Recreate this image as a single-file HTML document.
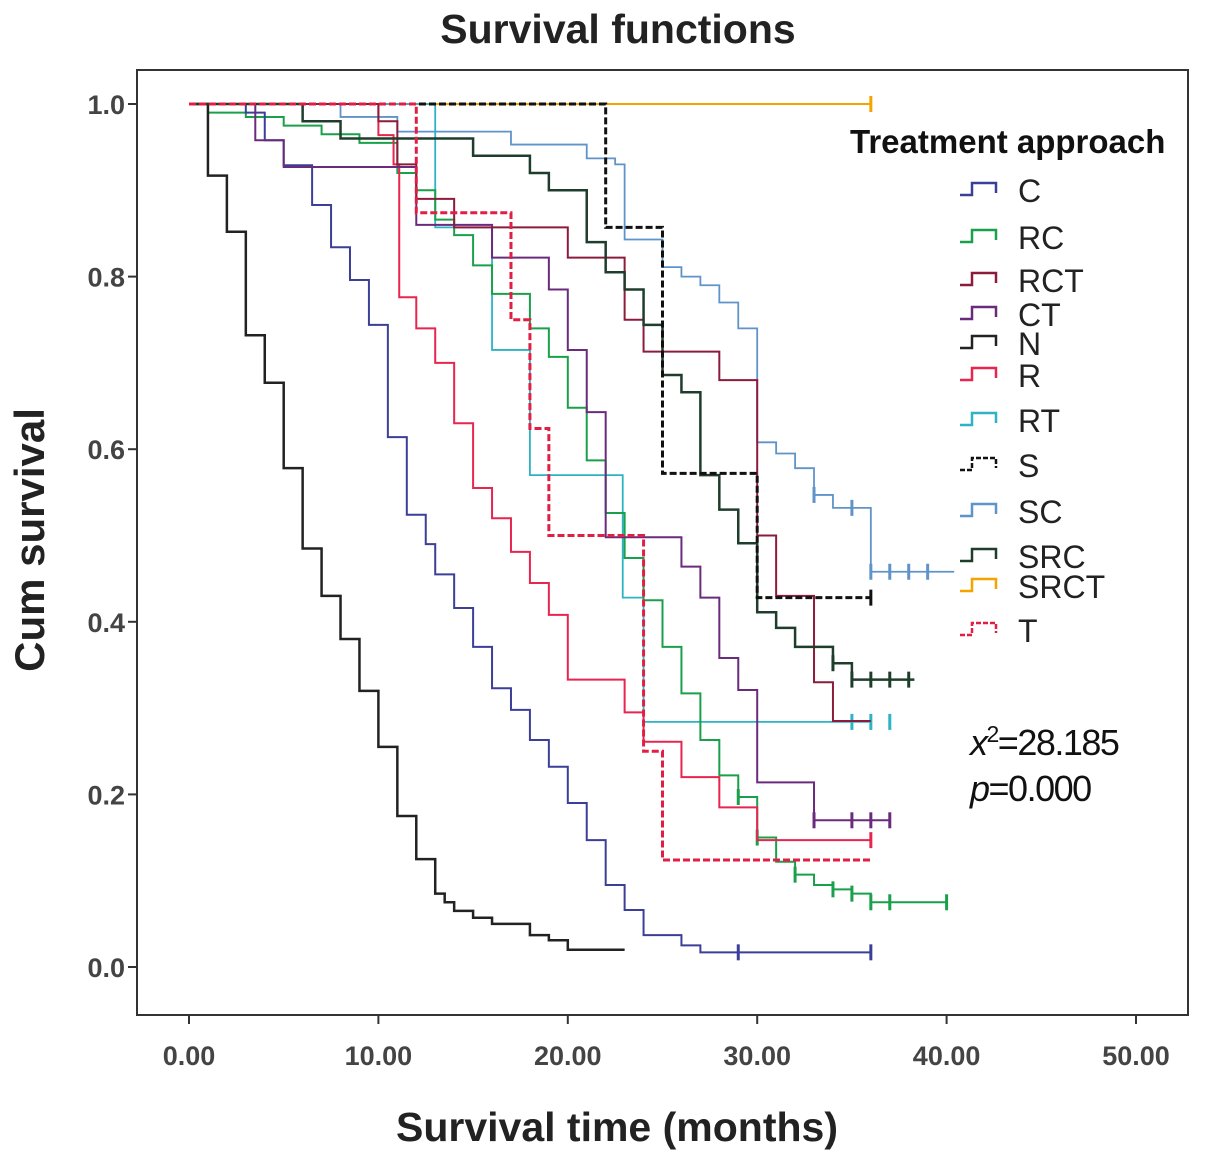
<!DOCTYPE html>
<html><head><meta charset="utf-8"><style>
html,body{margin:0;padding:0;background:#fff;}
svg{display:block;font-family:"Liberation Sans",sans-serif;}
</style></head><body>
<svg id="chart" width="1205" height="1162" viewBox="0 0 1205 1162" xmlns="http://www.w3.org/2000/svg">
<rect x="0" y="0" width="1205" height="1162" fill="#fff"/>
<text x="618" y="43" text-anchor="middle" font-size="41" font-weight="bold" fill="#222">Survival functions</text>
<rect x="137" y="70" width="1051" height="945" fill="none" stroke="#333" stroke-width="2"/>
<text transform="translate(44,540) rotate(-90)" text-anchor="middle" font-size="42" font-weight="bold" fill="#222">Cum survival</text>
<text x="617" y="1141" text-anchor="middle" font-size="41" font-weight="bold" fill="#222">Survival time (months)</text>
<g id="axes"></g>
<g id="series"></g>
<g id="legend">
<text x="850" y="153" font-size="33" font-weight="bold" fill="#111">Treatment approach</text>
</g>
<text x="970" y="755" font-size="36" fill="#111" letter-spacing="-1.5"><tspan font-style="italic">x</tspan><tspan font-size="23" dy="-13">2</tspan><tspan dy="13">=28.185</tspan></text>
<text x="970" y="801" font-size="36" fill="#111" letter-spacing="-1.5"><tspan font-style="italic">p</tspan>=0.000</text>
</svg>
<script>
const xTicks = [0, 10, 20, 30, 40, 50];
const xTickLabels = ["0.00", "10.00", "20.00", "30.00", "40.00", "50.00"];
const yTicks = [0, 0.2, 0.4, 0.6, 0.8, 1.0];
const yTickLabels = ["0.0", "0.2", "0.4", "0.6", "0.8", "1.0"];
const groups = ["C","RC","RCT","CT","N","R","RT","S","SC","SRC","SRCT","T"];
const tC = [3,4,5,6.5,7.5,8.5,9.5,10.5,11.5,12.5,13,14,15,16,17,18,19,20,21,22,23,24,26,27];
const sC = [0.99,0.958,0.929,0.883,0.834,0.796,0.744,0.614,0.524,0.49,0.455,0.416,0.371,0.323,0.298,0.263,0.232,0.19,0.147,0.095,0.066,0.037,0.025,0.017];
const tRC = [1,3,5,7,9,11,12,13,14,15,16,18,19,20,21,22,23,24,25,26,27,28,29,30,31,32,33,34,35,36];
const sRC = [0.99,0.985,0.975,0.965,0.955,0.92,0.9,0.866,0.848,0.813,0.78,0.74,0.707,0.648,0.587,0.526,0.474,0.425,0.371,0.317,0.263,0.222,0.197,0.15,0.122,0.107,0.095,0.09,0.085,0.075];
const tRCT = [10,11,12,14,20,23,24,28,30,31,33,34];
const sRCT = [0.98,0.93,0.89,0.857,0.822,0.75,0.713,0.68,0.5,0.43,0.33,0.285];
const tCT = [3.5,5,12,16,19,20,21,22,26,27,28,29,30,33];
const sCT = [0.958,0.927,0.86,0.822,0.785,0.715,0.643,0.498,0.464,0.428,0.358,0.321,0.214,0.17];
const tN = [1,2,3,4,5,6,7,8,9,10,11,12,13,13.5,14,15,16,18,19,20];
const sN = [0.917,0.852,0.732,0.677,0.578,0.485,0.43,0.38,0.32,0.255,0.175,0.125,0.085,0.075,0.065,0.057,0.05,0.037,0.031,0.02];
const tR = [10,10.8,11.1,12,13,14,15,16,17,18,19,20,23,24,26,28,30];
const sR = [0.964,0.93,0.776,0.74,0.70,0.63,0.555,0.52,0.481,0.445,0.408,0.333,0.295,0.261,0.22,0.185,0.147];
const tRT = [13,16,18,22.9,24];
const sRT = [0.857,0.715,0.57,0.428,0.284];
const tS = [22,25,30];
const sS = [0.857,0.572,0.428];
const tSC = [8,11,17,21,22.5,23,25,26,27,28,29,30,31,32,33,34,36];
const sSC = [0.985,0.968,0.953,0.937,0.93,0.843,0.811,0.8,0.79,0.77,0.74,0.608,0.595,0.578,0.547,0.532,0.458];
const tSRC = [6,8,15,18,19,21,22,23,24,25,26,27,28,29,30,31,32,34,35];
const sSRC = [0.98,0.96,0.94,0.92,0.90,0.84,0.805,0.785,0.744,0.686,0.666,0.57,0.53,0.491,0.411,0.393,0.371,0.352,0.333];
const tSRCT = [];
const sSRCT = [];
const tT = [12,17,18,19,24,25];
const sT = [0.874,0.75,0.624,0.5,0.25,0.124];
const endTimes = [36,40,36,37,23,36,36,36,40.4,38.3,36,36];
const censorC = [29,36];
const censorRC = [29,30,32,34,35,36,37,40];
const censorCT = [33,35,36,37];
const censorR = [36];
const censorRT = [35,36,37];
const censorS = [36];
const censorSC = [33,35,36,37,38,39];
const censorSRC = [34,35,36,37,38];
const censorSRCT = [36];

const NS="http://www.w3.org/2000/svg";
const X0=189, X1=1136, Y0=967, Y1=104;
function xs(t){return X0+(X1-X0)*t/50;}
function ys(s){return Y0-(Y0-Y1)*s;}
function mk(tag,attrs,parent){const e=document.createElementNS(NS,tag);for(const k in attrs)e.setAttribute(k,attrs[k]);parent.appendChild(e);return e;}

const axes=document.getElementById('axes');
xTicks.forEach((t,i)=>{
  const l=mk('line',{x1:xs(t),x2:xs(t),y1:1015,y2:1024,stroke:'#333','stroke-width':2},axes);
  
  
  const tx=mk('text',{x:xs(t),y:1065,'text-anchor':'middle','font-size':27,'font-weight':'bold',fill:'#444'},axes);
  tx.textContent=xTickLabels[i];
  
  
});
yTicks.forEach((v,i)=>{
  const l=mk('line',{x1:128,x2:137,y1:ys(v),y2:ys(v),stroke:'#333','stroke-width':2},axes);
  
  
  const tx=mk('text',{x:125,y:ys(v)+10,'text-anchor':'end','font-size':27,'font-weight':'bold',fill:'#444'},axes);
  tx.textContent=yTickLabels[i];
  
  
});

const seriesTimes=[tC,tRC,tRCT,tCT,tN,tR,tRT,tS,tSC,tSRC,tSRCT,tT];
const seriesSurv=[sC,sRC,sRCT,sCT,sN,sR,sRT,sS,sSC,sSRC,sSRCT,sT];
const censors=[censorC,censorRC,[],censorCT,[],censorR,censorRT,censorS,censorSC,censorSRC,censorSRCT,[]];
const colors=["#3c3f98","#1aa04a","#8b1c3c","#6b2b7c","#222222","#e8254f","#2cb3c4","#111111","#5f93c9","#1f3d2c","#f5a300","#e01f45"];
const dashed=[false,false,false,false,false,false,false,true,false,false,false,true];
const widths=[2,2,2,2,2.5,2,1.8,3,1.8,2.5,2,3];
const sg=document.getElementById('series');
const drawOrder=[10,8,6,1,0,4,5,3,2,9,7,11];
drawOrder.forEach(i=>{
  const ts=seriesTimes[i], ss=seriesSurv[i];
  let d='M'+xs(0)+','+ys(1);
  ts.forEach((t,j)=>{d+=' H'+xs(t)+' V'+ys(ss[j]);});
  d+=' H'+xs(endTimes[i]);
  const p=mk('path',{d:d,fill:'none',stroke:colors[i],'stroke-width':widths[i],'stroke-dasharray':dashed[i]?'7,3':'none'},sg);
  
  
  censors[i].forEach(c=>{
    let v=1; ts.forEach((t,j)=>{if(t<=c)v=ss[j];});
    const m=mk('line',{x1:xs(c),x2:xs(c),y1:ys(v)-8,y2:ys(v)+8,stroke:colors[i],'stroke-width':3},sg);
    
    
  });
});

const legendY=[190,237,280,314,343,375,420,465,511,556,586,630];
const lg=document.getElementById('legend');
groups.forEach((g,i)=>{
  const y=legendY[i];
  const ic=mk('path',{d:`M960,${y+5} H972 V${y-7} H996 V${y+3}`,fill:'none',stroke:colors[i],'stroke-width':2.5,'stroke-dasharray':dashed[i]?'5,2':'none'},lg);
  
  
  const tx=mk('text',{x:1018,y:y+12,'font-size':32,fill:'#222'},lg);
  tx.textContent=g;
  
  
});
</script>
</body></html>
